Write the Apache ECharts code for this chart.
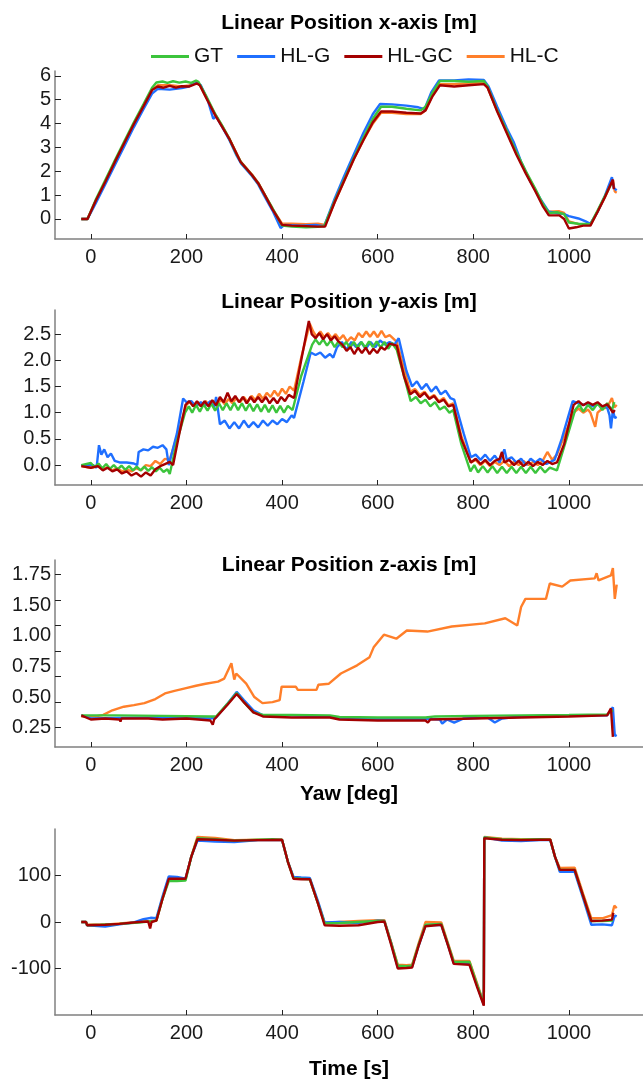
<!DOCTYPE html>
<html>
<head>
<meta charset="utf-8">
<script src="https://cdn.jsdelivr.net/npm/echarts@6/dist/echarts.min.js"></script>
<style>
  html, body { margin: 0; padding: 0; background: #fff; }
  #main { width: 643px; height: 1081px; }
</style>
</head>
<body>
<div id="main"></div>
<script>
// series names and colours
const names = ['GT', 'HL-G', 'HL-GC', 'HL-C'];
const colors = { 'GT': '#3cc43c', 'HL-G': '#1f6fff', 'HL-GC': '#a40000', 'HL-C': '#ff7f2a' };

// shared time ticks
const timeTicks = [0, 200, 400, 600, 800, 1000];

// ---- Linear position x [m] ----
const xGT = [[-20,0],[-7,0],[10,0.8],[30,1.62],[50,2.45],[70,3.25],[90,4.05],[110,4.8],[128,5.5],[137,5.72],[150,5.76],[160,5.7],[172,5.77],[185,5.71],[198,5.76],[210,5.7],[220,5.8],[225,5.75],[240,5.2],[260,4.4],[275,3.9],[290,3.35],[305,2.7],[315,2.35],[337,1.84],[350,1.5],[362,1.07],[380,0.45],[400,-0.28],[420,-0.32],[450,-0.35],[475,-0.33],[488,-0.3],[510,0.75],[530,1.65],[550,2.55],[570,3.4],[590,4.2],[607,4.7],[630,4.7],[660,4.62],[690,4.55],[700,4.7],[715,5.3],[730,5.78],[760,5.78],[790,5.75],[822,5.78],[830,5.55],[850,4.55],[870,3.7],[890,2.8],[910,2.0],[930,1.25],[945,0.65],[958,0.25],[975,0.28],[990,0.2],[1000,-0.15],[1020,-0.2],[1045,-0.22],[1060,0.35],[1075,0.95],[1092,1.6]];
const xHLG = [[-20,0],[-7,0],[10,0.65],[30,1.45],[50,2.25],[70,3.05],[90,3.85],[110,4.6],[128,5.25],[140,5.45],[165,5.42],[190,5.48],[205,5.55],[222,5.72],[230,5.6],[245,4.95],[256,4.2],[262,4.3],[275,3.85],[290,3.3],[305,2.65],[315,2.3],[337,1.8],[350,1.45],[362,1.0],[380,0.35],[397,-0.38],[405,-0.25],[440,-0.28],[470,-0.25],[488,-0.3],[510,0.85],[530,1.8],[550,2.7],[570,3.6],[590,4.4],[605,4.82],[630,4.8],[660,4.75],[685,4.68],[698,4.6],[712,5.3],[728,5.8],[760,5.8],[790,5.85],[822,5.82],[832,5.55],[850,4.7],[870,3.8],[885,3.2],[900,2.4],[920,1.55],[940,0.85],[958,0.3],[975,0.25],[990,0.2],[1000,0.12],[1020,0.02],[1035,-0.1],[1045,-0.2],[1060,0.3],[1075,0.95],[1090,1.75],[1094,1.3],[1100,1.2]];
const xHLGC = [[-20,0],[-7,0],[10,0.75],[30,1.55],[50,2.38],[70,3.18],[90,3.98],[110,4.72],[128,5.4],[140,5.55],[152,5.5],[165,5.58],[178,5.5],[190,5.56],[205,5.55],[222,5.68],[228,5.6],[242,5.05],[260,4.35],[275,3.85],[289,3.38],[313,2.4],[337,1.84],[350,1.5],[362,1.07],[380,0.4],[400,-0.25],[420,-0.28],[450,-0.3],[475,-0.32],[490,-0.32],[510,0.7],[530,1.6],[550,2.5],[570,3.3],[590,4.05],[607,4.5],[630,4.5],[660,4.45],[690,4.42],[700,4.55],[715,5.15],[730,5.6],[760,5.55],[790,5.6],[822,5.65],[830,5.5],[850,4.5],[870,3.6],[890,2.7],[910,1.9],[930,1.15],[945,0.55],[958,0.15],[980,0.15],[990,0.0],[1000,-0.4],[1015,-0.35],[1030,-0.28],[1045,-0.28],[1060,0.3],[1075,0.9],[1092,1.65],[1094,1.25]];
const xHLC = [[-20,0],[-7,0],[10,0.75],[30,1.55],[50,2.38],[70,3.18],[90,3.98],[110,4.72],[128,5.42],[140,5.6],[165,5.6],[190,5.55],[205,5.6],[222,5.7],[228,5.6],[242,5.05],[260,4.38],[275,3.88],[289,3.4],[313,2.42],[337,1.86],[350,1.52],[362,1.08],[380,0.42],[400,-0.2],[420,-0.2],[450,-0.22],[475,-0.2],[490,-0.25],[510,0.7],[530,1.6],[550,2.5],[570,3.3],[590,4.0],[607,4.45],[630,4.45],[660,4.4],[690,4.4],[700,4.55],[715,5.2],[730,5.65],[760,5.65],[790,5.68],[822,5.7],[830,5.5],[850,4.55],[870,3.65],[890,2.75],[910,1.95],[930,1.2],[945,0.6],[958,0.3],[980,0.32],[990,0.25],[1000,-0.1],[1020,-0.22],[1045,-0.25],[1060,0.3],[1075,0.9],[1092,1.62],[1096,1.15],[1100,1.1]];
const xTicksY = [0, 1, 2, 3, 4, 5, 6];

// ---- Linear position y [m] ----
const yGT = [[-20,0.0],[0,0.04],[8,-0.04],[16,0.03],[24,-0.06],[32,0.02],[40,-0.07],[48,0.0],[56,-0.08],[64,-0.01],[72,-0.09],[80,-0.02],[88,-0.1],[96,-0.03],[104,-0.1],[112,-0.03],[120,-0.11],[128,-0.04],[136,-0.12],[144,-0.05],[152,-0.13],[160,-0.08],[165,-0.17],[180,0.45],[197,1.0],[205,1.12],[212,1.0],[220,1.15],[228,1.02],[236,1.16],[244,1.04],[252,1.17],[260,1.04],[268,1.18],[276,1.05],[284,1.18],[292,1.05],[300,1.19],[308,1.05],[316,1.18],[324,1.04],[332,1.17],[340,1.03],[348,1.16],[356,1.02],[364,1.15],[372,1.01],[380,1.14],[388,1.0],[396,1.13],[404,1.0],[412,1.13],[422,1.05],[440,1.7],[463,2.3],[470,2.4],[478,2.3],[486,2.4],[494,2.28],[502,2.38],[510,2.25],[518,2.36],[526,2.25],[534,2.35],[542,2.24],[550,2.35],[558,2.24],[566,2.35],[574,2.24],[582,2.36],[590,2.25],[598,2.36],[606,2.24],[614,2.35],[622,2.22],[630,2.33],[640,2.2],[655,1.7],[669,1.22],[680,1.3],[690,1.18],[700,1.25],[710,1.12],[720,1.2],[730,1.06],[740,1.12],[750,1.0],[758,1.05],[775,0.4],[794,-0.12],[802,0.0],[810,-0.14],[820,-0.02],[830,-0.14],[840,-0.02],[850,-0.15],[860,-0.03],[870,-0.15],[880,-0.03],[890,-0.15],[900,-0.03],[910,-0.15],[920,-0.03],[930,-0.15],[940,-0.03],[950,-0.14],[960,-0.05],[975,-0.1],[995,0.5],[1013,1.05],[1022,1.15],[1030,1.02],[1040,1.15],[1050,1.05],[1060,1.18],[1070,1.05],[1080,1.18],[1090,1.05],[1095,1.2]];
const yHLG = [[-20,0.0],[5,0.0],[12,-0.05],[17,0.38],[22,0.2],[28,0.3],[35,0.15],[42,0.22],[50,0.08],[60,0.05],[75,0.05],[90,0.03],[97,0.0],[100,0.25],[110,0.3],[120,0.28],[130,0.35],[140,0.33],[150,0.38],[158,0.3],[163,0.0],[180,0.6],[193,1.27],[200,1.2],[210,1.22],[220,1.12],[230,1.2],[240,1.14],[250,1.22],[258,1.1],[262,1.3],[266,1.05],[270,0.78],[280,0.85],[290,0.7],[300,0.82],[310,0.7],[320,0.85],[330,0.72],[340,0.82],[350,0.72],[360,0.85],[370,0.75],[380,0.85],[390,0.78],[400,0.88],[410,0.82],[420,0.95],[425,0.9],[445,1.6],[460,2.15],[470,2.1],[480,2.15],[490,2.05],[500,2.12],[507,2.05],[515,2.25],[525,2.35],[535,2.2],[545,2.35],[555,2.25],[565,2.35],[575,2.22],[585,2.35],[595,2.25],[605,2.38],[615,2.3],[625,2.35],[635,2.3],[644,2.42],[660,1.8],[672,1.5],[682,1.6],[692,1.45],[702,1.55],[712,1.4],[722,1.5],[732,1.35],[742,1.42],[752,1.28],[760,1.25],[780,0.6],[795,0.15],[805,0.2],[815,0.1],[825,0.2],[835,0.08],[845,0.18],[855,0.05],[865,0.3],[870,0.1],[880,0.15],[890,0.05],[900,0.12],[910,0.0],[920,0.12],[930,0.05],[940,0.12],[953,0.02],[970,0.1],[985,0.5],[1008,1.22],[1020,1.18],[1030,1.15],[1040,1.18],[1050,1.12],[1060,1.16],[1070,1.12],[1080,1.1],[1085,0.95],[1088,0.7],[1092,1.05],[1096,0.9],[1100,0.92]];
const yHLGC = [[-20,-0.02],[0,-0.05],[15,-0.02],[25,-0.1],[35,-0.05],[45,-0.12],[55,-0.08],[65,-0.16],[75,-0.12],[85,-0.2],[95,-0.15],[105,-0.22],[115,-0.14],[125,-0.2],[135,-0.08],[145,-0.02],[155,0.02],[165,0.06],[172,0.0],[185,0.6],[198,1.15],[206,1.22],[214,1.12],[222,1.22],[230,1.12],[238,1.22],[246,1.12],[254,1.24],[262,1.14],[270,1.3],[278,1.2],[286,1.38],[294,1.22],[302,1.32],[310,1.2],[318,1.3],[326,1.18],[334,1.3],[342,1.2],[350,1.3],[358,1.2],[366,1.3],[374,1.18],[382,1.28],[390,1.18],[398,1.3],[406,1.22],[414,1.34],[425,1.28],[440,2.0],[456,2.75],[462,2.5],[470,2.42],[478,2.52],[486,2.4],[494,2.5],[502,2.38],[510,2.46],[518,2.36],[526,2.3],[535,2.18],[543,2.25],[551,2.12],[559,2.24],[567,2.14],[575,2.24],[583,2.12],[591,2.22],[599,2.14],[607,2.25],[615,2.2],[625,2.32],[640,2.28],[655,1.7],[668,1.35],[678,1.42],[688,1.3],[698,1.38],[708,1.26],[718,1.32],[728,1.2],[738,1.25],[748,1.12],[758,1.15],[775,0.5],[795,0.05],[805,0.12],[815,0.02],[825,0.1],[835,0.0],[845,0.08],[855,0.12],[860,0.25],[865,0.05],[875,0.1],[885,0.0],[895,0.08],[905,-0.02],[915,0.06],[925,-0.02],[935,0.06],[945,0.0],[955,0.08],[965,0.02],[975,0.05],[990,0.4],[1010,1.15],[1020,1.22],[1030,1.14],[1040,1.2],[1050,1.15],[1060,1.2],[1070,1.12],[1080,1.16],[1085,1.1],[1092,1.0],[1096,1.05]];
const yHLC = [[-20,-0.02],[0,-0.05],[15,-0.02],[25,-0.08],[35,-0.04],[45,-0.1],[55,-0.06],[65,-0.12],[75,-0.08],[85,-0.12],[95,-0.06],[105,-0.1],[115,0.0],[125,-0.02],[135,0.08],[145,0.02],[155,0.12],[165,0.1],[185,0.7],[200,1.15],[208,1.22],[216,1.12],[224,1.2],[232,1.12],[240,1.22],[248,1.14],[256,1.22],[264,1.14],[272,1.25],[280,1.16],[288,1.26],[296,1.18],[304,1.28],[312,1.2],[320,1.3],[328,1.2],[336,1.32],[344,1.24],[352,1.36],[360,1.26],[368,1.38],[376,1.3],[384,1.42],[392,1.32],[400,1.46],[408,1.36],[416,1.5],[425,1.42],[440,2.05],[458,2.7],[465,2.55],[472,2.45],[480,2.55],[488,2.44],[496,2.52],[504,2.42],[512,2.5],[520,2.4],[528,2.48],[536,2.36],[544,2.44],[552,2.38],[560,2.52],[568,2.44],[576,2.55],[584,2.45],[592,2.55],[600,2.44],[608,2.56],[616,2.44],[625,2.48],[640,2.35],[655,1.85],[668,1.4],[678,1.45],[688,1.34],[698,1.4],[708,1.28],[718,1.34],[728,1.22],[738,1.28],[748,1.14],[758,1.18],[775,0.55],[795,0.05],[805,0.1],[815,0.0],[825,0.08],[835,-0.02],[845,0.06],[855,0.0],[865,0.08],[875,-0.02],[885,0.06],[895,0.0],[905,0.08],[915,0.0],[925,0.06],[935,0.0],[945,0.08],[955,0.25],[965,0.1],[975,0.2],[990,0.55],[1010,1.0],[1020,1.08],[1030,1.0],[1040,1.06],[1045,1.0],[1055,0.73],[1060,1.0],[1070,1.08],[1080,1.1],[1090,1.28],[1095,1.1],[1100,1.15]];
const yTicksY = [0, 0.5, 1, 1.5, 2, 2.5];

// ---- Linear position z [m] ----
const zGT = [[-20,0.37],[50,0.37],[150,0.365],[250,0.36],[262,0.36],[285,0.48],[305,0.59],[320,0.5],[340,0.4],[360,0.375],[420,0.375],[500,0.37],[520,0.355],[600,0.35],[700,0.35],[720,0.36],[800,0.365],[900,0.37],[1000,0.375],[1080,0.38],[1092,0.42]];
const zHLG = [[-20,0.37],[0,0.34],[50,0.345],[150,0.35],[250,0.34],[262,0.35],[285,0.48],[305,0.6],[320,0.52],[340,0.42],[360,0.37],[420,0.37],[500,0.36],[520,0.34],[600,0.335],[700,0.34],[730,0.33],[735,0.29],[745,0.33],[760,0.3],[780,0.34],[830,0.35],[845,0.3],[860,0.34],[900,0.36],[1000,0.37],[1080,0.37],[1092,0.45],[1096,0.17],[1100,0.18]];
const zHLGC = [[-20,0.37],[0,0.33],[30,0.34],[60,0.33],[62,0.31],[64,0.34],[120,0.34],[150,0.33],[200,0.34],[250,0.32],[255,0.28],[258,0.33],[285,0.47],[305,0.58],[320,0.5],[340,0.4],[360,0.36],[420,0.35],[500,0.35],[520,0.33],[600,0.32],[700,0.32],[705,0.3],[710,0.33],[800,0.34],[900,0.35],[1000,0.36],[1080,0.37],[1088,0.44],[1092,0.16]];
const zHLC = [[-20,0.36],[10,0.36],[26,0.375],[45,0.42],[69,0.455],[90,0.47],[112,0.49],[135,0.53],[155,0.585],[175,0.61],[197,0.635],[220,0.66],[240,0.68],[266,0.7],[279,0.73],[294,0.88],[300,0.72],[304,0.78],[325,0.68],[342,0.55],[359,0.49],[380,0.5],[395,0.52],[399,0.65],[429,0.65],[433,0.62],[472,0.62],[476,0.67],[498,0.68],[523,0.78],[557,0.86],[583,0.94],[592,1.04],[613,1.16],[639,1.12],[661,1.2],[704,1.19],[755,1.24],[824,1.27],[867,1.32],[892,1.25],[900,1.43],[909,1.51],[952,1.51],[960,1.66],[986,1.63],[1003,1.69],[1054,1.71],[1058,1.76],[1062,1.69],[1088,1.74],[1092,1.81],[1096,1.51],[1100,1.65]];
const zTickMarks = [0.25, 0.5, 0.75, 1.0, 1.25, 1.5, 1.75];
const zLabelAt = [0.25, 0.55, 0.85, 1.15, 1.45, 1.75];
const zLabelText = ['0.25', '0.50', '0.75', '1.00', '1.50', '1.75'];

// ---- Yaw [deg] ----
const yawGT = [[-20,0],[-10,0],[-8,-7],[20,-6],[60,-4],[100,-1],[130,2],[137,3],[150,50],[163,88],[180,88],[198,89],[210,140],[223,180],[260,178],[300,175],[350,177],[380,178],[400,177],[412,130],[424,94],[440,93],[458,92],[475,40],[489,-3],[520,-2],[560,0],[600,2],[614,2],[628,-45],[642,-94],[660,-95],[672,-94],[686,-48],[700,-6],[733,-4],[746,-45],[759,-86],[792,-86],[808,-135],[822,-176],[823,182],[860,178],[900,177],[940,178],[961,177],[971,140],[981,112],[1012,112],[1030,55],[1047,2],[1070,2],[1092,3]];
const yawHLG = [[-20,0],[-10,0],[-8,-7],[30,-10],[60,-5],[90,-1],[110,6],[125,9],[137,8],[150,55],[163,98],[180,97],[198,93],[210,140],[223,175],[260,173],[300,172],[350,176],[400,176],[412,130],[424,97],[440,96],[458,95],[475,45],[489,-1],[520,0],[560,-2],[600,3],[614,2],[628,-45],[642,-98],[660,-98],[672,-96],[686,-50],[700,-7],[733,-6],[746,-46],[759,-88],[792,-90],[808,-137],[822,-178],[823,182],[860,175],[900,174],[940,176],[961,176],[971,140],[981,108],[1012,108],[1030,50],[1047,-6],[1070,-5],[1090,-7],[1096,14],[1100,12]];
const yawHLGC = [[-20,0],[-10,0],[-8,-7],[30,-6],[60,-4],[100,0],[120,1],[124,-14],[127,0],[137,3],[150,50],[163,93],[180,93],[198,93],[210,140],[223,178],[260,177],[300,175],[350,176],[400,177],[412,130],[424,93],[440,92],[458,92],[475,40],[489,-7],[520,-8],[560,-7],[600,0],[614,1],[628,-48],[642,-100],[660,-99],[672,-98],[686,-50],[700,-9],[733,-6],[746,-47],[759,-90],[792,-92],[808,-140],[822,-180],[823,180],[860,177],[900,176],[940,177],[961,177],[971,140],[981,112],[1012,112],[1030,55],[1047,2],[1070,3],[1090,5],[1093,20]];
const yawHLC = [[-20,0],[-10,0],[-8,-6],[30,-6],[60,-3],[100,0],[137,3],[150,52],[163,95],[180,94],[198,93],[210,140],[223,183],[260,181],[300,176],[350,177],[400,176],[412,130],[424,95],[440,94],[458,93],[475,42],[489,-2],[520,0],[560,2],[600,4],[614,4],[628,-43],[642,-92],[660,-93],[672,-92],[686,-45],[700,0],[733,-1],[746,-42],[759,-83],[792,-84],[808,-132],[822,-175],[823,183],[860,179],[900,178],[940,178],[961,178],[971,140],[981,116],[1012,117],[1030,60],[1047,8],[1070,8],[1090,15],[1095,35],[1100,30]];
const yawTicks = [-100, 0, 100];

const titles = ['Linear Position x-axis [m]', 'Linear Position y-axis [m]', 'Linear Position z-axis [m]', 'Yaw [deg]'];

const font = 'Liberation Sans, Arial, sans-serif';
const gridBoxes = [
  { top: 71, height: 168 },
  { top: 310, height: 175 },
  { top: 560, height: 187 },
  { top: 829, height: 188 }
];
const yRanges = [[-0.84, 6.2], [-0.38, 2.96], [0.061, 1.89], [-200, 200]];

function xAxis(i) {
  return {
    type: 'value', gridIndex: i, min: -75, max: 1155,
    axisLine: { onZero: false, lineStyle: { color: '#808080', width: 1.5 } },
    axisTick: { inside: true, length: 5, customValues: timeTicks, lineStyle: { color: '#222' } },
    axisLabel: { customValues: timeTicks, fontSize: 20, fontFamily: font, color: '#1a1a1a', margin: 8, formatter: v => String(v) },
    splitLine: { show: false },
    name: i === 3 ? 'Time [s]' : '',
    nameLocation: 'middle', nameGap: 44,
    nameTextStyle: { fontSize: 21, fontWeight: 'bold', fontFamily: font, color: '#000' }
  };
}

function yAxis(i, tickVals, labelVals, fmt) {
  return {
    type: 'value', gridIndex: i, min: yRanges[i][0], max: yRanges[i][1],
    axisLine: { show: true, onZero: false, lineStyle: { color: '#808080', width: 1.5 } },
    axisTick: { show: true, inside: true, length: 6, customValues: tickVals, lineStyle: { color: '#222' } },
    axisLabel: { customValues: labelVals, fontSize: 20, fontFamily: font, color: '#1a1a1a', margin: 4, formatter: fmt },
    splitLine: { show: false }
  };
}

function line(name, data, i) {
  return {
    name: name, type: 'line', xAxisIndex: i, yAxisIndex: i, data: data,
    showSymbol: false, symbol: 'none',
    lineStyle: { width: 2.4, color: colors[name] },
    itemStyle: { color: colors[name] }
  };
}

const chart = echarts.init(document.getElementById('main'), null, { renderer: 'canvas' });
chart.setOption({
  animation: false,
  backgroundColor: '#fff',
  legend: {
    data: names, top: 41, left: 146, itemGap: 14, itemWidth: 38, itemHeight: 3, icon: 'rect',
    textStyle: { fontSize: 21, fontFamily: font, color: '#111' }
  },
  graphic: titles.map((t, i) => ({
    type: 'text', x: 349, y: [23, 302, 565, 794][i],
    style: { text: t, font: 'bold 21px ' + font, fill: '#000', align: 'center', verticalAlign: 'middle' }
  })),
  grid: gridBoxes.map(g => ({ left: 55, right: 0, top: g.top, height: g.height })),
  xAxis: [0, 1, 2, 3].map(xAxis),
  yAxis: [
    yAxis(0, xTicksY, xTicksY, v => String(v)),
    yAxis(1, yTicksY, yTicksY, v => v.toFixed(1)),
    yAxis(2, zTickMarks, zLabelAt, v => zLabelText[zLabelAt.findIndex(p => Math.abs(p - v) < 1e-6)] || ''),
    yAxis(3, yawTicks, yawTicks, v => String(v))
  ],
  series: [
    line('HL-C', xHLC, 0), line('HL-G', xHLG, 0), line('GT', xGT, 0), line('HL-GC', xHLGC, 0),
    line('HL-C', yHLC, 1), line('HL-G', yHLG, 1), line('GT', yGT, 1), line('HL-GC', yHLGC, 1),
    line('HL-C', zHLC, 2), line('HL-G', zHLG, 2), line('GT', zGT, 2), line('HL-GC', zHLGC, 2),
    line('HL-C', yawHLC, 3), line('HL-G', yawHLG, 3), line('GT', yawGT, 3), line('HL-GC', yawHLGC, 3)
  ]
});
</script>
</body>
</html>
